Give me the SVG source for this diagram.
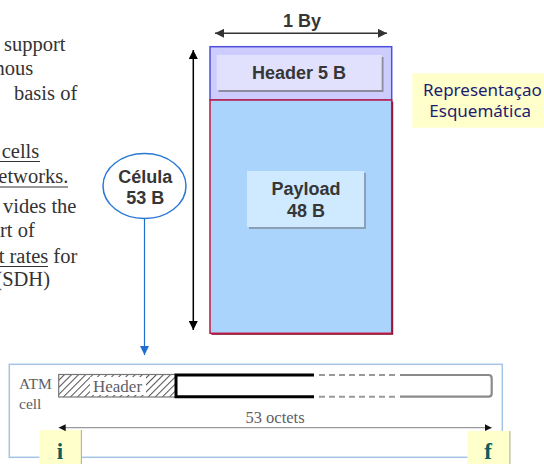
<svg xmlns="http://www.w3.org/2000/svg" width="544" height="464" viewBox="0 0 544 464">
  <style>
    .body { font-family: "Liberation Serif", "Times New Roman", serif; font-size: 20.5px; fill: #333; }
    .lbl { font-family: "Liberation Sans", Arial, sans-serif; font-size: 18px; font-weight: bold; fill: #363636; text-anchor: middle; }
    .note { font-family: "Noto Sans", "Open Sans", sans-serif; font-size: 17px; fill: #1c1c70; }
    .scan { font-family: "Liberation Serif", "Times New Roman", serif; fill: #5e5e66; }
    .tag { font-family: "Liberation Serif", "Times New Roman", serif; font-size: 23px; font-weight: bold; fill: #0b5e5e; text-anchor: middle; }
    .uline { stroke: #333; stroke-width: 1; }
  </style>
  <defs>
    <marker id="arrDark" viewBox="0 0 10 10" refX="10" refY="5" markerWidth="10" markerHeight="9" markerUnits="userSpaceOnUse" orient="auto-start-reverse">
      <path d="M0,0 L10,5 L0,10 z" fill="#333"/>
    </marker>
    <marker id="arrBlack" viewBox="0 0 10 10" refX="10" refY="5" markerWidth="9" markerHeight="9" markerUnits="userSpaceOnUse" orient="auto-start-reverse">
      <path d="M0,0 L10,5 L0,10 z" fill="#000"/>
    </marker>
    <marker id="arrBlue" viewBox="0 0 10 10" refX="10" refY="5" markerWidth="9" markerHeight="9" markerUnits="userSpaceOnUse" orient="auto">
      <path d="M0,0 L10,5 L0,10 z" fill="#1f6fd0"/>
    </marker>
    <marker id="arrSmall" viewBox="0 0 10 10" refX="10" refY="5" markerWidth="7" markerHeight="7" markerUnits="userSpaceOnUse" orient="auto-start-reverse">
      <path d="M0,0 L10,5 L0,10 z" fill="#111"/>
    </marker>
    <pattern id="hatch" patternUnits="userSpaceOnUse" width="5" height="5" patternTransform="rotate(45)">
      <rect width="5" height="5" fill="#fff"/>
      <line x1="0" y1="0" x2="0" y2="5" stroke="#555" stroke-width="2"/>
    </pattern>
  </defs>

  <!-- body text, clipped at the left edge -->
  <g id="body-text">
    <text class="body" x="4" y="50.7">support</text>
    <text class="body" x="-5.4" y="75">nous</text>
    <text class="body" x="14" y="100">basis of</text>
    <text class="body" x="1.7" y="158">cells</text>
    <line class="uline" x1="0" y1="161.5" x2="40" y2="161.5"/>
    <text class="body" x="-1.7" y="183">etworks.</text>
    <line class="uline" x1="0" y1="187" x2="68" y2="187"/>
    <text class="body" x="3" y="213">vides the</text>
    <text class="body" x="0" y="237">rt of</text>
    <text class="body" x="-1.3" y="263">t rates for</text>
    <line class="uline" x1="0" y1="266.5" x2="48" y2="266.5"/>
    <text class="body" x="-4.7" y="286">(SDH)</text>
  </g>

  <!-- cell layout: header band and payload band -->
  <g id="cell-header">
    <rect x="210" y="46.7" width="181.7" height="53.3" fill="#ccccff" stroke="#5050dd" stroke-width="1.5"/>
    <rect x="218.5" y="57" width="165" height="35" fill="#8c8c9c"/>
    <rect x="216.7" y="55" width="165" height="35" fill="#e1e1fd"/>
    <text class="lbl" x="299" y="79.3">Header 5 B</text>
  </g>

  <g id="cell-payload">
    <rect x="211.5" y="101.5" width="181.7" height="233.3" fill="#7a1030"/>
    <rect x="210" y="100" width="181.7" height="233.3" fill="#aad4fc" stroke="#bf1840" stroke-width="1.5"/>
    <rect x="249" y="173" width="117" height="56" fill="#8aa0b4"/>
    <rect x="247" y="171" width="117" height="56" fill="#cfeaff"/>
    <text class="lbl" x="306" y="195">Payload</text>
    <text class="lbl" x="306" y="217.3">48 B</text>
  </g>

  <g id="width-label">
    <text class="lbl" x="302" y="26.7">1 By</text>
  </g>

  <g id="cell-bubble">
    <ellipse cx="144.5" cy="186" rx="41.5" ry="32.5" fill="#fff" stroke="#2a78d6" stroke-width="1.5"/>
    <text class="lbl" x="145.3" y="183">Célula</text>
    <text class="lbl" x="145.3" y="204">53 B</text>
  </g>

  <g id="note">
    <rect x="412.3" y="73.3" width="132" height="54.4" fill="#ffffcc"/>
    <text class="note" x="423" y="96">Representaçao</text>
    <text class="note" x="429.3" y="116.7">Esquemática</text>
  </g>

  <!-- ATM cell figure -->
  <g id="atm-figure">
    <rect x="9.3" y="364.3" width="493" height="93" fill="#fff" stroke="#a6c4e6" stroke-width="1.5"/>
    <text class="scan" x="19" y="389" font-size="15.5">ATM</text>
    <text class="scan" x="19" y="409" font-size="15.5">cell</text>
    <rect x="58.7" y="374.5" width="117" height="22.5" fill="url(#hatch)" stroke="#777" stroke-width="1.2"/>
    <rect x="90" y="377" width="56" height="18" fill="#fff"/>
    <text class="scan" x="93" y="391.7" font-size="17">Header</text>
    <path d="M314,375 H176 V396.7 H314" fill="none" stroke="#000" stroke-width="3"/>
    <line x1="319" y1="375" x2="396" y2="375" stroke="#999" stroke-width="2" stroke-dasharray="6 4"/>
    <line x1="319" y1="396.7" x2="396" y2="396.7" stroke="#999" stroke-width="2" stroke-dasharray="6 4"/>
    <path d="M400,375 H488.5 Q491.7,375 491.7,378.2 V393.5 Q491.7,396.7 488.5,396.7 H400" fill="none" stroke="#8a8a8a" stroke-width="2.2"/>
    <text class="scan" x="275" y="423" font-size="16.5" text-anchor="middle">53 octets</text>
  </g>

  <g id="tag-i">
    <rect x="41" y="430" width="41" height="36" fill="#b8b8a0"/>
    <rect x="39.3" y="430" width="41.5" height="36" fill="#ffffcc"/>
    <text class="tag" x="60" y="458.5">i</text>
  </g>

  <g id="tag-f">
    <rect x="469" y="431" width="41.5" height="35" fill="#b8b8a0"/>
    <rect x="467.3" y="431" width="42" height="35" fill="#ffffcc"/>
    <text class="tag" x="488" y="458.5">f</text>
  </g>

  <!-- connectors -->
  <g id="connectors">
    <line x1="215" y1="33.3" x2="387" y2="33.3" stroke="#333" stroke-width="1.5" marker-start="url(#arrDark)" marker-end="url(#arrDark)"/>
    <line x1="193.3" y1="50" x2="193.3" y2="330" stroke="#000" stroke-width="1.5" marker-start="url(#arrBlack)" marker-end="url(#arrBlack)"/>
    <line x1="144.5" y1="218.5" x2="144.5" y2="355" stroke="#1f6fd0" stroke-width="1.2" marker-end="url(#arrBlue)"/>
    <line x1="58.7" y1="427.7" x2="491.7" y2="427.7" stroke="#9a9a9a" stroke-width="1.3" marker-start="url(#arrSmall)" marker-end="url(#arrSmall)"/>
  </g>
</svg>
